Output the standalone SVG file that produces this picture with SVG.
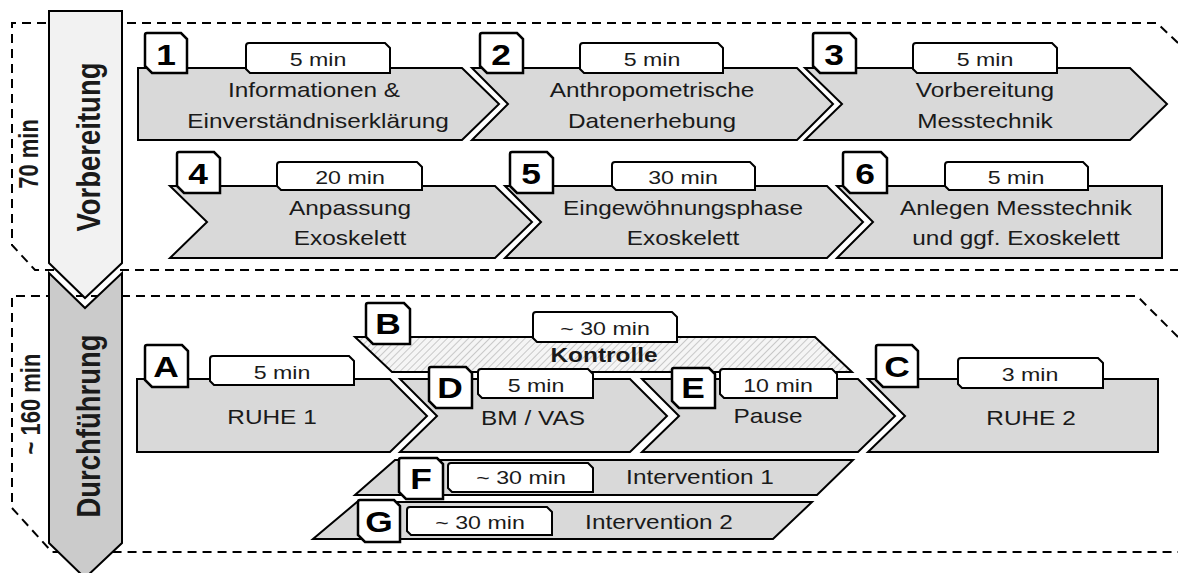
<svg xmlns="http://www.w3.org/2000/svg" width="1178" height="573" viewBox="0 0 1178 573">
  <defs>
    <pattern id="hatch" width="5" height="5" patternUnits="userSpaceOnUse" patternTransform="rotate(45)">
      <rect width="5" height="5" fill="#f5f5f5"/>
      <line x1="0" y1="0" x2="0" y2="5" stroke="#bdbdbd" stroke-width="1.6"/>
    </pattern>
  </defs>
  <style>
    .dash { fill: none; stroke: #000; stroke-width: 2; stroke-dasharray: 9 6; }
    .n { fill: #d9d9d9; stroke: #000; stroke-width: 2; }
    .b { fill: url(#hatch); stroke: #000; stroke-width: 2; }
    .box { fill: #fff; stroke: #000; stroke-width: 2.5; }
    .tab { fill: #fff; stroke: #000; stroke-width: 2; }
    .ph1 { fill: #f2f2f2; stroke: #000; stroke-width: 2; }
    .ph2 { fill: #cbcbcb; stroke: #000; stroke-width: 2; }
    text { font-family: "Liberation Sans", Arial, sans-serif; text-anchor: middle; fill: #1a1a1a; }
    .lbl { font-size: 20px; }
    .dur { font-size: 19px; }
    .num { font-size: 29px; font-weight: bold; fill: #000; }
    .bold { font-size: 20px; font-weight: bold; }
    .ph { font-size: 27.5px; font-weight: bold; }
    .tm { font-size: 22px; font-weight: bold; }
  </style>

  <!-- phase frames -->
  <g id="frames">
    <path class="dash" d="M1178,43 L1157,23 L12,23 L12,245 L35,270 L1178,270"/>
    <path class="dash" d="M1178,337 L1137,296 L12,296 L12,508 L52,552 L1178,552"/>
  </g>

  <!-- phase arrows -->
  <g id="phase-vorbereitung">
    <polygon class="ph1" points="49,11 122,11 122,263 85,298 49,263"/>
    <text class="ph" transform="translate(100,147) scale(1.22,1) rotate(-90)">Vorbereitung</text>
    <text class="tm" transform="translate(38,154) scale(1.22,1) rotate(-90)">70 min</text>
  </g>
  <g id="phase-durchfuehrung">
    <polygon class="ph2" points="49,273 85,308 122,273 122,543 85,578 49,543"/>
    <text class="ph" transform="translate(100,426) scale(1.22,1) rotate(-90)">Durchführung</text>
    <text class="tm" transform="translate(40,404) scale(1.22,1) rotate(-90)">~ 160 min</text>
  </g>

  <!-- connectors: the steps abut each other as chevrons, no separate lines -->
  <g id="connectors"></g>

  <!-- preparation steps -->
  <g id="step1">
    <polygon class="n" points="138,68 462,68 499,104 462,140 138,140"/>
    <path class="box" d="M145,35 Q145,33 147,33 L181,33 L187,39 L187,73 L152,73 L145,66 Z"/>
    <text class="num" transform="translate(166,65) scale(1.22,1)">1</text>
    <path class="tab" d="M246,69 L246,46 Q246,43 249,43 L385,43 L390,48 L390,73 L250,73 Z"/>
    <text class="dur" transform="translate(318,66) scale(1.22,1)">5 min</text>
    <text class="lbl" transform="translate(314,97) scale(1.22,1)">Informationen &amp;</text>
    <text class="lbl" transform="translate(318,128) scale(1.22,1)">Einverständniserklärung</text>
  </g>
  <g id="step2">
    <polygon class="n" points="472,68 797,68 833,104 797,140 472,140 508,104"/>
    <path class="box" d="M480,35 Q480,33 482,33 L517,33 L523,39 L523,73 L487,73 L480,66 Z"/>
    <text class="num" transform="translate(501,65) scale(1.22,1)">2</text>
    <path class="tab" d="M580,69 L580,46 Q580,43 583,43 L718,43 L723,48 L723,73 L584,73 Z"/>
    <text class="dur" transform="translate(652,66) scale(1.22,1)">5 min</text>
    <text class="lbl" transform="translate(652,97) scale(1.22,1)">Anthropometrische</text>
    <text class="lbl" transform="translate(652,128) scale(1.22,1)">Datenerhebung</text>
  </g>
  <g id="step3">
    <polygon class="n" points="805,68 1130,68 1167,104 1130,140 805,140 842,104"/>
    <path class="box" d="M813,35 Q813,33 815,33 L850,33 L856,39 L856,73 L820,73 L813,66 Z"/>
    <text class="num" transform="translate(834,65) scale(1.22,1)">3</text>
    <path class="tab" d="M913,69 L913,46 Q913,43 916,43 L1052,43 L1057,48 L1057,73 L917,73 Z"/>
    <text class="dur" transform="translate(985,66) scale(1.22,1)">5 min</text>
    <text class="lbl" transform="translate(985,97) scale(1.22,1)">Vorbereitung</text>
    <text class="lbl" transform="translate(985,128) scale(1.22,1)">Messtechnik</text>
  </g>
  <g id="step4">
    <polygon class="n" points="170,186 495,186 532,222 495,258 170,258 207,222"/>
    <path class="box" d="M177,154 Q177,152 179,152 L214,152 L220,158 L220,193 L184,193 L177,186 Z"/>
    <text class="num" transform="translate(198,184) scale(1.22,1)">4</text>
    <path class="tab" d="M277,186 L277,165 Q277,162 280,162 L417,162 L422,167 L422,190 L281,190 Z"/>
    <text class="dur" transform="translate(350,184) scale(1.22,1)">20 min</text>
    <text class="lbl" transform="translate(350,215) scale(1.22,1)">Anpassung</text>
    <text class="lbl" transform="translate(350,245) scale(1.22,1)">Exoskelett</text>
  </g>
  <g id="step5">
    <polygon class="n" points="505,186 827,186 863,222 827,258 505,258 541,222"/>
    <path class="box" d="M510,154 Q510,152 512,152 L547,152 L553,158 L553,193 L517,193 L510,186 Z"/>
    <text class="num" transform="translate(531,184) scale(1.22,1)">5</text>
    <path class="tab" d="M612,186 L612,165 Q612,162 615,162 L750,162 L755,167 L755,190 L616,190 Z"/>
    <text class="dur" transform="translate(683,184) scale(1.22,1)">30 min</text>
    <text class="lbl" transform="translate(683,215) scale(1.22,1)">Eingewöhnungsphase</text>
    <text class="lbl" transform="translate(683,245) scale(1.22,1)">Exoskelett</text>
  </g>
  <g id="step6">
    <polygon class="n" points="837,186 1162,186 1162,258 837,258 873,222"/>
    <path class="box" d="M843,154 Q843,152 845,152 L881,152 L887,158 L887,193 L850,193 L843,186 Z"/>
    <text class="num" transform="translate(865,184) scale(1.22,1)">6</text>
    <path class="tab" d="M945,186 L945,165 Q945,162 948,162 L1083,162 L1088,167 L1088,190 L949,190 Z"/>
    <text class="dur" transform="translate(1016,184) scale(1.22,1)">5 min</text>
    <text class="lbl" transform="translate(1016,215) scale(1.22,1)">Anlegen Messtechnik</text>
    <text class="lbl" transform="translate(1016,245) scale(1.22,1)">und ggf. Exoskelett</text>
  </g>

  <!-- execution steps -->
  <g id="stepB">
    <polygon class="b" points="355,337 815,337 852,372 392,372"/>
    <path class="box" d="M366,305 Q366,303 368,303 L404,303 L410,309 L410,344 L373,344 L366,337 Z"/>
    <text class="num" transform="translate(388,334) scale(1.22,1)">B</text>
    <path class="tab" d="M533,338 L533,315 Q533,312 536,312 L672,312 L677,317 L677,342 L537,342 Z"/>
    <text class="dur" transform="translate(605,335) scale(1.22,1)">~ 30 min</text>
    <text class="bold" transform="translate(604,362) scale(1.22,1)">Kontrolle</text>
  </g>
  <g id="stepA">
    <polygon class="n" points="137,379 390,379 427,416 390,452 137,452"/>
    <path class="box" d="M145,347 Q145,345 147,345 L182,345 L188,351 L188,387 L152,387 L145,380 Z"/>
    <text class="num" transform="translate(166,377) scale(1.22,1)">A</text>
    <path class="tab" d="M210,381 L210,359 Q210,356 213,356 L349,356 L354,361 L354,385 L214,385 Z"/>
    <text class="dur" transform="translate(282,379) scale(1.22,1)">5 min</text>
    <text class="lbl" transform="translate(272,424) scale(1.22,1)">RUHE 1</text>
  </g>
  <g id="stepD">
    <polygon class="n" points="400,379 630,379 667,416 630,452 400,452 437,416"/>
    <path class="box" d="M429,369 Q429,367 431,367 L466,367 L472,373 L472,408 L436,408 L429,401 Z"/>
    <text class="num" transform="translate(450,398) scale(1.22,1)">D</text>
    <path class="tab" d="M478,394 L478,372 Q478,369 481,369 L588,369 L593,374 L593,398 L482,398 Z"/>
    <text class="dur" transform="translate(536,392) scale(1.22,1)">5 min</text>
    <text class="lbl" transform="translate(533,425) scale(1.22,1)">BM / VAS</text>
  </g>
  <g id="stepE">
    <polygon class="n" points="642,379 858,379 895,416 858,452 642,452 679,416"/>
    <path class="box" d="M672,370 Q672,368 674,368 L709,368 L715,374 L715,408 L679,408 L672,401 Z"/>
    <text class="num" transform="translate(693,398) scale(1.22,1)">E</text>
    <path class="tab" d="M720,394 L720,372 Q720,369 723,369 L832,369 L837,374 L837,398 L724,398 Z"/>
    <text class="dur" transform="translate(778,392) scale(1.22,1)">10 min</text>
    <text class="lbl" transform="translate(768,423) scale(1.22,1)">Pause</text>
  </g>
  <g id="stepC">
    <polygon class="n" points="868,379 1158,379 1158,452 868,452 905,416"/>
    <path class="box" d="M876,347 Q876,345 878,345 L912,345 L918,351 L918,387 L883,387 L876,380 Z"/>
    <text class="num" transform="translate(897,377) scale(1.22,1)">C</text>
    <path class="tab" d="M958,384 L958,361 Q958,358 961,358 L1098,358 L1103,363 L1103,388 L962,388 Z"/>
    <text class="dur" transform="translate(1030,381) scale(1.22,1)">3 min</text>
    <text class="lbl" transform="translate(1031,425) scale(1.22,1)">RUHE 2</text>
  </g>
  <g id="stepF">
    <polygon class="n" points="395,460 853,460 817,495 355,495"/>
    <path class="box" d="M399,460 Q399,458 401,458 L437,458 L443,464 L443,499 L406,499 L399,492 Z"/>
    <text class="num" transform="translate(421,489) scale(1.22,1)">F</text>
    <path class="tab" d="M448,488 L448,466 Q448,463 451,463 L588,463 L593,468 L593,492 L452,492 Z"/>
    <text class="dur" transform="translate(521,484) scale(1.22,1)">~ 30 min</text>
    <text class="lbl" transform="translate(700,484) scale(1.22,1)">Intervention 1</text>
  </g>
  <g id="stepG">
    <polygon class="n" points="357,502 812,502 773,539 313,539"/>
    <path class="box" d="M358,502 Q358,500 360,500 L394,500 L400,506 L400,542 L365,542 L358,535 Z"/>
    <text class="num" transform="translate(379,532) scale(1.22,1)">G</text>
    <path class="tab" d="M407,531 L407,510 Q407,507 410,507 L547,507 L552,512 L552,535 L411,535 Z"/>
    <text class="dur" transform="translate(480,529) scale(1.22,1)">~ 30 min</text>
    <text class="lbl" transform="translate(659,529) scale(1.22,1)">Intervention 2</text>
  </g>
</svg>
